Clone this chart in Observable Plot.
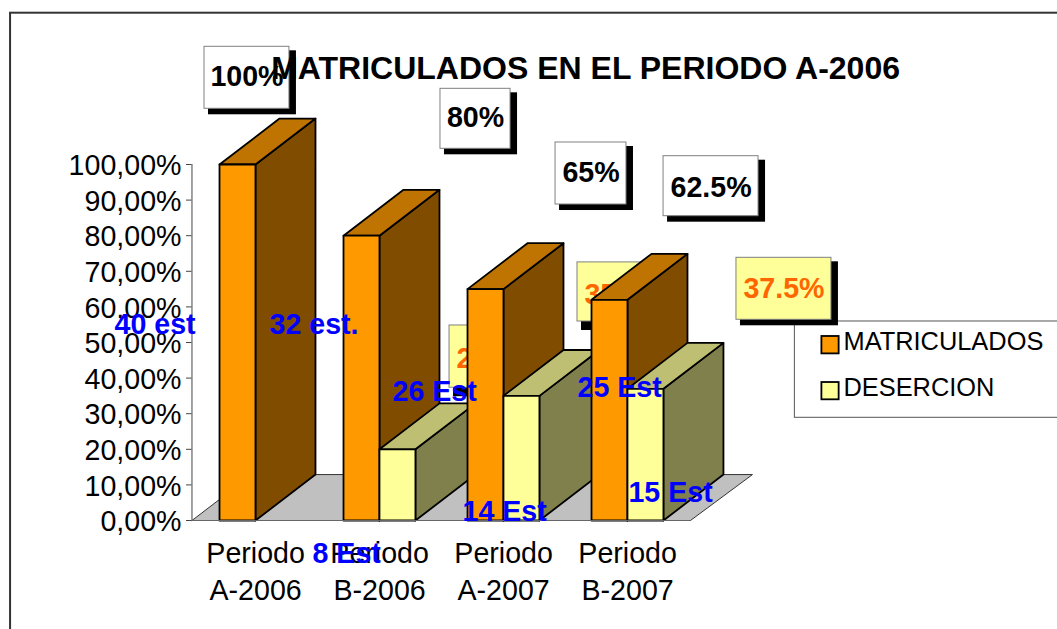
<!DOCTYPE html>
<html>
<head>
<meta charset="utf-8">
<script src="https://cdn.jsdelivr.net/npm/d3@7"></script>
<script src="https://cdn.jsdelivr.net/npm/@observablehq/plot@0.6"></script>
<style>
  html, body { margin: 0; padding: 0; background: #fff; overflow: hidden; }
  svg { display: block; }
</style>
</head>
<body>
<div id="chart"></div>
<script>
const titleText = "MATRICULADOS EN EL PERIODO A-2006";
const categories = ["Periodo\nA-2006", "Periodo\nB-2006", "Periodo\nA-2007", "Periodo\nB-2007"];
const matriculados = [100, 80, 65, 62];
const desercion = [null, 20, 35, 37];
const yTicks = [0, 10, 20, 30, 40, 50, 60, 70, 80, 90, 100];
const legendNames = ["MATRICULADOS", "DESERCION"];

// Value call-outs (text, then placement in scale units: slots and percent)
const calloutsBack = [
  {text: "20%", x1: 2.097, x2: 2.669, y1: 54.78, y2: 37.3, ty: 45.5, fill: "#FFFF99", ink: "#FF6600"},
  {text: "35%", x1: 3.129, x2: 3.702, y1: 72.5, y2: 55.9, ty: 63.5, fill: "#FFFF99", ink: "#FF6600"}
];
const calloutsFront = [
  {text: "100%", x1: 0.121, x2: 0.806, y1: 133.06, y2: 115.65, ty: 124.5, fill: "#fff", ink: "#000"},
  {text: "80%", x1: 2.024, x2: 2.589, y1: 121.26, y2: 104.41, ty: 113.1, fill: "#fff", ink: "#000"},
  {text: "65%", x1: 2.952, x2: 3.524, y1: 106.18, y2: 88.76, ty: 97.7, fill: "#fff", ink: "#000"},
  {text: "62.5%", x1: 3.823, x2: 4.589, y1: 102.33, y2: 85.48, ty: 93.4, fill: "#fff", ink: "#000"},
  {text: "37.5%", x1: 4.411, x2: 5.177, y1: 73.79, y2: 56.38, ty: 65.1, fill: "#FFFF99", ink: "#FF6600"}
];
// Student counts, placed in scale units
const studentLabels = ["40 est", "32 est.", "26 Est", "25 Est", "15 Est", "14 Est", "8 Est"];
const studentX = [-0.605, 0.645, 1.637, 3.129, 3.540, 2.202, 0.992];
const studentY = [55.1, 55.1, 36.1, 37.2, 7.9, 2.4, -9.3];
const students = studentLabels.map((text, i) => ({text, x: studentX[i], y: studentY[i]}));

// Projection of the 3-D bars, in scale units
const barStart = 0.242, barWidth = 0.29, depthX = 0.484, depthY = 12.9;
const axisX = 0.02;

const palette = {
  orange: {front: "#FF9900", top: "#BF7300", side: "#804D00"},
  yellow: {front: "#FFFF99", top: "#BFBF73", side: "#80804D"}
};

function box3d(id, x0, value, colors) {
  const x1 = x0 + barWidth, dx = depthX, dy = depthY;
  const poly = (name, fill, pts) => [...pts, pts[0]].map(([x, y]) => ({id: id + name, x, y, fill}));
  return [
    ...poly("side", colors.side, [[x1, 0], [x1 + dx, dy], [x1 + dx, value + dy], [x1, value]]),
    ...poly("top", colors.top, [[x0, value], [x0 + dx, value + dy], [x1 + dx, value + dy], [x1, value]]),
    ...poly("front", colors.front, [[x0, 0], [x0, value], [x1, value], [x1, 0]])
  ];
}

const faces = categories.flatMap((_, i) => {
  const x0 = i + barStart;
  const parts = box3d("m" + i, x0, matriculados[i], palette.orange);
  if (desercion[i] != null) parts.push(...box3d("d" + i, x0 + barWidth, desercion[i], palette.yellow));
  return parts;
});

const floor = [[axisX, 0], [axisX + depthX, depthY], [4.54, depthY], [4.04, 0], [axisX, 0]].map(([x, y]) => ({x, y}));

const legendRows = [
  {name: legendNames[0], fill: palette.orange.front, x1: 5.10, x2: 5.239, y1: 51.69, y2: 46.8, ty: 50.25},
  {name: legendNames[1], fill: palette.yellow.front, x1: 5.10, x2: 5.239, y1: 38.76, y2: 33.9, ty: 37.2}
];

const calloutMarks = (rows, below) => [
  Plot.rect(rows, {x1: "x1", x2: "x2", y1: "y1", y2: "y2", fill: "#000", dx: 4, dy: 4, insetRight: -3, insetBottom: -below}),
  Plot.rect(rows, {x1: "x1", x2: "x2", y1: "y1", y2: "y2", fill: "fill", stroke: "#808080", strokeWidth: 1}),
  Plot.text(rows, {
    x: d => (d.x1 + d.x2) / 2, y: "ty", text: "text", fill: "ink",
    fontSize: 28.6, fontWeight: "bold"
  })
];

const chart = Plot.plot({
  width: 1057, height: 629,
  marginLeft: 189, marginRight: 372, marginTop: 164, marginBottom: 109,
  style: {fontFamily: "'Liberation Sans', Arial, sans-serif", background: "#fff", overflow: "hidden"},
  x: {domain: [0, 4], axis: null},
  y: {domain: [0, 100], axis: null},
  marks: [
    // chart frame, only its left and top edges are inside the picture
    Plot.rect([{}], {x1: -1.443, x2: 7.2, y1: 142.5, y2: -40, stroke: "#333", strokeWidth: 2, fill: "none"}),
    // floor
    Plot.line(floor, {x: "x", y: "y", fill: "#C0C0C0", stroke: "#333", strokeWidth: 1}),
    // call-outs that sit behind the bars
    ...calloutMarks(calloutsBack, 5),
    // bars
    Plot.line(faces, {x: "x", y: "y", z: "id", fill: "fill", stroke: "#000", strokeWidth: 1.8, strokeLinejoin: "round"}),
    // axes
    Plot.ruleX([axisX], {y1: 0, y2: 100, stroke: "#444", strokeWidth: 1}),
    Plot.ruleY([0], {x1: axisX, x2: 4.04, stroke: "#666", strokeWidth: 1}),
    Plot.ruleY(yTicks, {x1: -0.024, x2: axisX, stroke: "#444", strokeWidth: 1}),
    Plot.axisY(yTicks, {
      anchor: "left", label: null, tickSize: 0, tickPadding: 8, dy: 1.5,
      tickFormat: d => d + ",00%", fontSize: 28.6, fill: "#000"
    }),
    Plot.text(categories, {
      x: (_, i) => i + 0.533, y: () => 0, text: d => d,
      fontSize: 28.6, lineHeight: 1.31, lineAnchor: "top", dy: 15.5, fill: "#000"
    }),
    // legend
    Plot.rect([{}], {x1: 4.882, x2: 7.2, y1: 55.9, y2: 28.85, fill: "#fff", stroke: "#555", strokeWidth: 1}),
    Plot.rect(legendRows, {x1: "x1", x2: "x2", y1: "y1", y2: "y2", fill: "fill", stroke: "#000", strokeWidth: 1.8}),
    Plot.text(legendRows, {x: () => 5.274, y: "ty", text: "name", textAnchor: "start", fontSize: 25.4, fill: "#000"}),
    // call-outs in front, title, student counts
    ...calloutMarks(calloutsFront, 2),
    Plot.text([titleText], {x: () => 3.194, y: () => 126.8, text: d => d, fontSize: 32, fontWeight: "bold", fill: "#000"}),
    Plot.text(students, {x: "x", y: "y", text: "text", textAnchor: "start", fontSize: 28.6, fontWeight: "bold", fill: "#0000FF"})
  ]
});
document.getElementById("chart").appendChild(chart);
</script>
</body>
</html>
